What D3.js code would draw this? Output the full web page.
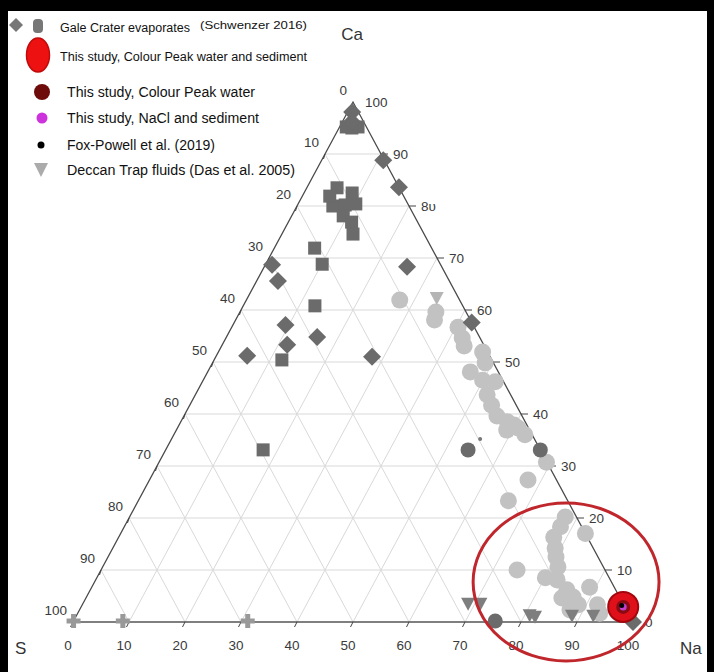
<!DOCTYPE html>
<html><head><meta charset="utf-8">
<script src="https://cdn.jsdelivr.net/npm/d3@7"></script>
<style>html,body{margin:0;padding:0;background:#000;}svg{display:block;}</style>
</head><body>
<svg id="c" width="714" height="672"></svg>
<script>
// ---------- data (percent Ca, Na; S = 100 - Ca - Na) ----------
const ticks = [0,10,20,30,40,50,60,70,80,90,100];
const tickLabelsRight = ["0","10","20","30","40","50","60","70","8υ","90","100"];
const galeDiamonds = [
  {Ca:98.1,Na:0.8},{Ca:96.2,Na:1.7},
  {Ca:88.8,Na:11.0},{Ca:83.6,Na:16.4},{Ca:68.3,Na:25.5},{Ca:68.7,Na:1.2},
  {Ca:65.6,Na:3.8},{Ca:57.1,Na:9.4},{Ca:54.8,Na:16.2},{Ca:51.2,Na:5.5},
  {Ca:53.3,Na:11.6},{Ca:51.0,Na:27.9},{Ca:57.6,Na:42.4},{Ca:0,Na:100}
];
const galeSquares = [
  {Ca:95.2,Na:1.2},{Ca:95.2,Na:3.3},{Ca:95.0,Na:2.3},
  {Ca:83.5,Na:5.4},{Ca:82.5,Na:8.6},{Ca:80.0,Na:6.4},{Ca:80.2,Na:8.5},
  {Ca:80.4,Na:10.3},{Ca:78.1,Na:9.2},{Ca:76.9,Na:11.3},{Ca:74.6,Na:12.7},
  {Ca:81.9,Na:4.9},{Ca:71.9,Na:7.2},{Ca:68.8,Na:10.1},{Ca:60.8,Na:12.8},
  {Ca:50.4,Na:12.1},{Ca:33.1,Na:17.4}
];
const galeCrosses = [{Ca:0.2,Na:0},{Ca:0.2,Na:8.8},{Ca:0.2,Na:31.1}];
const darkCircles = [{Ca:33.1,Na:54.0},{Ca:33.1,Na:66.9},{Ca:0.2,Na:75.3}];
const smallDots = [{Ca:35.2,Na:55.1}];
const lightCircles = [
  {Ca:61.9,Na:27.4},{Ca:58.1,Na:35.5},{Ca:59.6,Na:35.0},{Ca:56.7,Na:40.4},
  {Ca:54.6,Na:42.2},{Ca:53.1,Na:43.3},{Ca:51.9,Na:47.2},{Ca:49.8,Na:48.7},
  {Ca:48.1,Na:46.9},{Ca:46.5,Na:49.9},{Ca:46.2,Na:52.3},{Ca:43.7,Na:52.1},
  {Ca:41.7,Na:53.9},{Ca:39.6,Na:55.9},{Ca:38.5,Na:58.3},{Ca:37.9,Na:59.8},
  {Ca:36.9,Na:59.0},{Ca:36.0,Na:62.7},{Ca:37.3,Na:60.8},{Ca:30.7,Na:69.2},
  {Ca:27.3,Na:67.6},{Ca:23.3,Na:66.1},{Ca:20.2,Na:77.8},{Ca:18.3,Na:77.9},
  {Ca:16.3,Na:77.7},{Ca:14.2,Na:79.0},{Ca:17.0,Na:83.0},{Ca:10.6,Na:81.3},
  {Ca:10.0,Na:74.3},{Ca:8.5,Na:80.1},{Ca:8.1,Na:82.4},{Ca:6.2,Na:85.1},
  {Ca:4.8,Na:86.9},{Ca:3.3,Na:88.6},{Ca:6.7,Na:88.9},{Ca:3.3,Na:92.0},
  {Ca:1.7,Na:93.2},{Ca:4.6,Na:85.0},{Ca:2.3,Na:87.6},{Ca:12.5,Na:80.0}
];
const deccan = [
  {Ca:62.3,Na:33.8},{Ca:3.5,Na:68.8},{Ca:3.5,Na:71.0},{Ca:1.3,Na:80.9},
  {Ca:1.0,Na:82.0},{Ca:1.2,Na:88.5},{Ca:1.2,Na:92.3}
];
const colourPeak = [{Ca:2.9,Na:96.8}];
const highlight = {Ca:7.7, Na:84.2, rNa:16.6, rCa:15.2};
const legendItems = [
  {key:"gale", text:"Gale Crater evaporates", note:"(Schwenzer 2016)"},
  {key:"cpws", text:"This study, Colour Peak water and sediment"},
  {key:"cpw", text:"This study, Colour Peak water"},
  {key:"nacl", text:"This study, NaCl and sediment"},
  {key:"fox", text:"Fox-Powell et al. (2019)"},
  {key:"deccan", text:"Deccan Trap fluids (Das et al. 2005)"}
];

// ---------- scales ----------
const xs = d3.scaleLinear().domain([0,100]).range([73,633]);
const ys = d3.scaleLinear().domain([0,100]).range([622,102]);
const px = d => xs(d.Na + d.Ca/2);
const py = d => ys(d.Ca);
const P = (Ca,Na) => [xs(Na + Ca/2), ys(Ca)];

const svg = d3.select("#c");
svg.append("rect").attr("x",8).attr("y",11).attr("width",699).attr("height",661).attr("fill","#fff");

const font = "Liberation Sans, Arial, sans-serif";
const g = svg.append("g");

// grid
const grid = g.append("g").attr("stroke","#d9d9d9").attr("stroke-width",1).attr("fill","none");
ticks.slice(1,-1).forEach(v=>{
  let a=P(v,0), b=P(v,100-v);
  grid.append("line").attr("x1",a[0]).attr("y1",a[1]).attr("x2",b[0]).attr("y2",b[1]);
  a=P(0,v); b=P(100-v,v);
  grid.append("line").attr("x1",a[0]).attr("y1",a[1]).attr("x2",b[0]).attr("y2",b[1]);
  a=P(0,100-v); b=P(100-v,0);
  grid.append("line").attr("x1",a[0]).attr("y1",a[1]).attr("x2",b[0]).attr("y2",b[1]);
});

// outline
const Sv=P(0,0), Nv=P(0,100), Cv=P(100,0);
g.append("path").attr("d",`M${Sv}L${Cv}L${Nv}`).attr("fill","none").attr("stroke","#4a4a4a").attr("stroke-width",1.3);
g.append("line").attr("x1",Sv[0]).attr("y1",Sv[1]).attr("x2",Nv[0]).attr("y2",Nv[1]).attr("stroke","#555").attr("stroke-width",1.6);

// ticks and labels
const tk = g.append("g").attr("stroke","#444").attr("stroke-width",1);
const tl = g.append("g").attr("font-family",font).attr("font-size",13.5).attr("fill","#3a3a3a");
ticks.forEach((v,i)=>{
  let p=P(0,v);
  tk.append("line").attr("x1",p[0]).attr("y1",p[1]).attr("x2",p[0]-2.5).attr("y2",p[1]+5);
  tl.append("text").attr("x",p[0]-5).attr("y",p[1]+28).attr("text-anchor","middle").text(v);
  p=P(v,100-v);
  if(v>0 && v<100) tk.append("line").attr("x1",p[0]).attr("y1",p[1]).attr("x2",p[0]+7).attr("y2",p[1]);
  tl.append("text").attr("x",p[0]+12).attr("y",p[1]+5).attr("text-anchor","start").text(tickLabelsRight[i]);
  p=P(100-v,0);
  if(v>0 && v<100) tk.append("line").attr("x1",p[0]).attr("y1",p[1]).attr("x2",p[0]-1.5).attr("y2",p[1]+5);
  tl.append("text").attr("x",p[0]-6).attr("y",p[1]-7).attr("text-anchor","end").text(v);
});

// vertex labels
const vl = g.append("g").attr("font-family",font).attr("font-size",17).attr("fill","#333");
vl.append("text").attr("x",Cv[0]-1).attr("y",Cv[1]-62).attr("text-anchor","middle").text("Ca");
vl.append("text").attr("x",Sv[0]-58).attr("y",Sv[1]+32).attr("text-anchor","start").text("S");
vl.append("text").attr("x",Nv[0]+47).attr("y",Nv[1]+32).attr("text-anchor","start").text("Na");

// marks
const dkGray="#6b6b6b", ltGray="#c2c2c2";
const diamondPath = (h)=>`M0,${-h}L${h},0L0,${h}L${-h},0Z`;
g.append("g").selectAll("circle").data(lightCircles).join("circle")
  .attr("cx",px).attr("cy",py).attr("r",8.5).attr("fill",ltGray);
g.append("g").selectAll("path").data(deccan).join("path")
  .attr("transform",d=>`translate(${px(d)},${py(d)})`)
  .attr("d","M-7,-6L7,-6L0,7Z").attr("fill",(d,i)=>i===0?"#b5b5b5":"#7e7e7e");
g.append("g").selectAll("rect").data(galeSquares).join("rect")
  .attr("x",d=>px(d)-6.5).attr("y",d=>py(d)-6.5).attr("width",13).attr("height",13).attr("fill",dkGray);
g.append("g").selectAll("path").data(galeDiamonds).join("path")
  .attr("transform",d=>`translate(${px(d)},${py(d)})`).attr("d",diamondPath(9)).attr("fill",dkGray);
g.append("g").selectAll("path").data(galeCrosses).join("path")
  .attr("transform",d=>`translate(${px(d)},${py(d)})`)
  .attr("d","M-2.5,-7H2.5V-2.5H7V2.5H2.5V7H-2.5V2.5H-7V-2.5H-2.5Z").attr("fill","#999");
g.append("g").selectAll("circle").data(darkCircles).join("circle")
  .attr("cx",px).attr("cy",py).attr("r",7.5).attr("fill",dkGray);
g.append("g").selectAll("circle").data(smallDots).join("circle")
  .attr("cx",px).attr("cy",py).attr("r",2).attr("fill","#777");

// Colour Peak
const cp = g.append("g").selectAll("g").data(colourPeak).join("g")
  .attr("transform",d=>`translate(${px(d)},${py(d)})`);
cp.append("circle").attr("r",15).attr("fill","#e0101a").attr("stroke","#a3070d").attr("stroke-width",2);
cp.append("circle").attr("r",7).attr("fill","#8a0a12");
cp.append("circle").attr("r",3.5).attr("fill","#c040d0");
cp.append("circle").attr("cx",-1.5).attr("cy",-1.5).attr("r",2.5).attr("fill","#000");

// highlight ellipse
g.append("ellipse")
  .attr("cx",xs(highlight.Na+highlight.Ca/2)).attr("cy",ys(highlight.Ca))
  .attr("rx",xs(highlight.rNa)-xs(0)).attr("ry",ys(0)-ys(highlight.rCa))
  .attr("fill","none").attr("stroke","#c0272d").attr("stroke-width",3);

// legend
const lg = svg.append("g").attr("font-family",font).attr("fill","#111");
const rows = [
  {y:28, x:60, fs:12, w:130},
  {y:57, x:60, fs:12, w:247},
  {y:92, x:67, fs:14, w:188},
  {y:118, x:67, fs:14, w:192},
  {y:145, x:67, fs:14, w:148},
  {y:170, x:67, fs:14, w:228}
];
legendItems.forEach((it,i)=>{
  const r=rows[i];
  lg.append("text").attr("x",r.x).attr("y",r.y+r.fs*0.36).attr("font-size",r.fs)
    .attr("textLength",r.w).attr("lengthAdjust","spacingAndGlyphs").text(it.text);
  if(it.note) lg.append("text").attr("x",200).attr("y",r.y-3+r.fs*0.36).attr("font-size",10.5)
    .attr("textLength",107).attr("lengthAdjust","spacingAndGlyphs").text(it.note);
});
lg.append("path").attr("transform","translate(16,25)").attr("d",diamondPath(7)).attr("fill","#777");
lg.append("rect").attr("x",33).attr("y",19).attr("width",10).attr("height",14).attr("rx",4).attr("fill","#777");
lg.append("ellipse").attr("cx",38).attr("cy",55).attr("rx",11.5).attr("ry",17).attr("fill","#ee1111").attr("stroke","#c00a0a").attr("stroke-width",1.5);
lg.append("circle").attr("cx",42).attr("cy",92).attr("r",8).attr("fill","#6e0b0b");
lg.append("circle").attr("cx",42).attr("cy",118).attr("r",5.5).attr("fill","#cc33dd");
lg.append("circle").attr("cx",41).attr("cy",145).attr("r",3.5).attr("fill","#000");
lg.append("path").attr("transform","translate(41,169)").attr("d","M-7,-6L7,-6L0,8Z").attr("fill","#ababab");
</script>
</body></html>
